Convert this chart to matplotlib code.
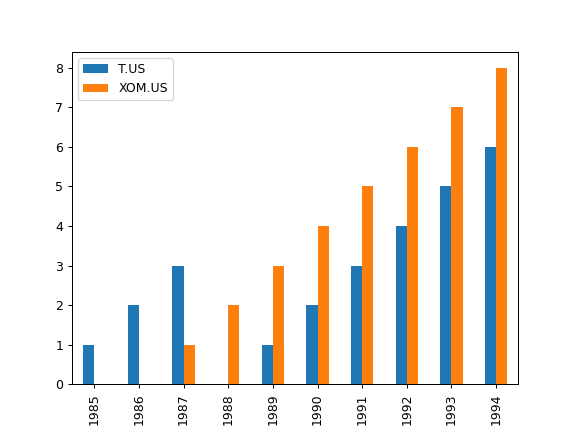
import matplotlib
matplotlib.use("Agg")
import matplotlib.pyplot as plt
import pandas as pd

years = ["1985", "1986", "1987", "1988", "1989", "1990", "1991", "1992", "1993", "1994"]
t_us = [1, 2, 3, 0, 1, 2, 3, 4, 5, 6]
xom_us = [0, 0, 1, 2, 3, 4, 5, 6, 7, 8]

df = pd.DataFrame({"T.US": t_us, "XOM.US": xom_us}, index=years)
fig, ax = plt.subplots(figsize=(6.4, 4.8), dpi=90)
df.plot(kind="bar", ax=ax)
fig.savefig("out.png", dpi=90)
